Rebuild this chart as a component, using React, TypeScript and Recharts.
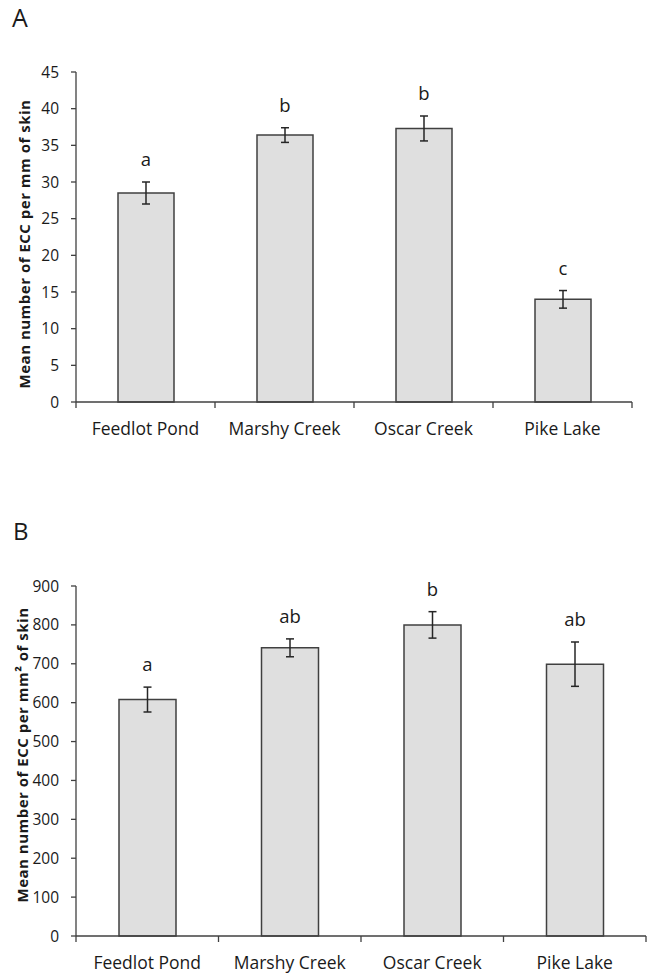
import React from 'react';
import { BarChart, Bar, XAxis, YAxis, ErrorBar, LabelList } from 'recharts';

const categories = ['Feedlot Pond', 'Marshy Creek', 'Oscar Creek', 'Pike Lake'];

const eccPerMm = [28.5, 36.4, 37.3, 14.0];
const eccPerMmErr = [1.5, 1.0, 1.7, 1.2];
const sigA = ['a', 'b', 'b', 'c'];
const ticksA = [0, 5, 10, 15, 20, 25, 30, 35, 40, 45];

const eccPerMm2 = [608, 741, 800, 699];
const eccPerMm2Err = [32, 23, 34, 57];
const sigB = ['a', 'ab', 'b', 'ab'];
const ticksB = [0, 100, 200, 300, 400, 500, 600, 700, 800, 900];

const dataA = categories.map((c, i) => ({ name: c, value: eccPerMm[i], err: eccPerMmErr[i], sig: sigA[i] }));
const dataB = categories.map((c, i) => ({ name: c, value: eccPerMm2[i], err: eccPerMm2Err[i], sig: sigB[i] }));

const FONT = '"Open Sans", sans-serif';
const AXIS = '#404040';
const TEXT = '#1a1a1a';

const makeXTick = (band: number, n: number, axisY: number) => (props: any) => {
  const { x, payload, index } = props;
  const left = x - band / 2;
  const right = x + band / 2;
  return (
    <g>
      <line x1={left} x2={left} y1={axisY} y2={axisY + 6} stroke={AXIS} strokeWidth={1.3} />
      {index === n - 1 && <line x1={right} x2={right} y1={axisY} y2={axisY + 6} stroke={AXIS} strokeWidth={1.3} />}
      <text x={x} y={axisY + 33} textAnchor="middle" fontFamily={FONT} fontSize={17.5} fill={TEXT}>
        {payload.value}
      </text>
    </g>
  );
};

const makeSigLabel = (vals: number[], errs: number[]) => (props: any) => {
  const { x, y, width, height, index, value } = props;
  const v = vals[index];
  const e = errs[index];
  const errPx = v ? (height * e) / v : 0;
  return (
    <text x={x + width / 2} y={y - errPx - 16} textAnchor="middle" fontFamily={FONT} fontSize={18.5} fill={TEXT}>
      {value}
    </text>
  );
};

const YTitle = ({ cx, cy, children }: any) => (
  <text
    x={cx}
    y={cy}
    transform={`rotate(-90, ${cx}, ${cy})`}
    textAnchor="middle"
    dominantBaseline="central"
    fontFamily={FONT}
    fontWeight="bold"
    fontSize={15}
    letterSpacing={0.5}
    fill={TEXT}
  >
    {children}
  </text>
);

export default function App() {
  const wA = 652, hA = 440, topA = 72, rightA = 20, plotHA = 330;
  const bandA = (wA - 76 - rightA) / categories.length;
  const wB = 652, hB = 488, topB = 96, rightB = 6, plotHB = 350;
  const bandB = (wB - 76 - rightB) / categories.length;

  return (
    <div style={{ position: 'absolute', left: 0, top: 0, width: 652, height: 978, background: '#fff' }}>
      <svg width={652} height={978} style={{ position: 'absolute', left: 0, top: 0 }}>
        <text x={12} y={27} fontFamily={FONT} fontSize={25} fill={TEXT}>A</text>
        <text x={13} y={540} fontFamily={FONT} fontSize={24} fill={TEXT}>B</text>
      </svg>

      <div style={{ position: 'absolute', left: 0, top: 0 }}>
        <BarChart width={wA} height={hA} data={dataA} margin={{ top: topA, right: rightA, bottom: 0, left: 0 }}>
          <XAxis
            dataKey="name"
            height={hA - topA - plotHA}
            interval={0}
            tickLine={false}
            axisLine={{ stroke: AXIS, strokeWidth: 1.3 }}
            tick={makeXTick(bandA, categories.length, topA + plotHA)}
          />
          <YAxis
            width={76}
            domain={[0, 45]}
            ticks={ticksA}
            interval={0}
            tickSize={5}
            tickMargin={12}
            axisLine={{ stroke: AXIS, strokeWidth: 1.3 }}
            tickLine={{ stroke: AXIS, strokeWidth: 1.3 }}
            tick={{ fontFamily: FONT, fontSize: 15.5, fill: TEXT }}
            label={<YTitle cx={24} cy={244}>Mean number of ECC per mm of skin</YTitle>}
          />
          <Bar dataKey="value" fill="#dfdfdf" stroke={AXIS} strokeWidth={1.5} barSize={56} isAnimationActive={false}>
            <ErrorBar dataKey="err" direction="y" width={4} stroke="#262626" strokeWidth={1.5} />
            <LabelList dataKey="sig" content={makeSigLabel(eccPerMm, eccPerMmErr)} />
          </Bar>
        </BarChart>
      </div>

      <div style={{ position: 'absolute', left: 0, top: 490 }}>
        <BarChart width={wB} height={hB} data={dataB} margin={{ top: topB, right: rightB, bottom: 0, left: 0 }}>
          <XAxis
            dataKey="name"
            height={hB - topB - plotHB}
            interval={0}
            tickLine={false}
            axisLine={{ stroke: AXIS, strokeWidth: 1.3 }}
            tick={makeXTick(bandB, categories.length, topB + plotHB)}
          />
          <YAxis
            width={76}
            domain={[0, 900]}
            ticks={ticksB}
            interval={0}
            tickSize={5}
            tickMargin={12}
            axisLine={{ stroke: AXIS, strokeWidth: 1.3 }}
            tickLine={{ stroke: AXIS, strokeWidth: 1.3 }}
            tick={{ fontFamily: FONT, fontSize: 15.5, fill: TEXT }}
            label={
              <YTitle cx={22} cy={265}>
                Mean number of ECC per mm² of skin
              </YTitle>
            }
          />
          <Bar dataKey="value" fill="#dfdfdf" stroke={AXIS} strokeWidth={1.5} barSize={57} isAnimationActive={false}>
            <ErrorBar dataKey="err" direction="y" width={4} stroke="#262626" strokeWidth={1.5} />
            <LabelList dataKey="sig" content={makeSigLabel(eccPerMm2, eccPerMm2Err)} />
          </Bar>
        </BarChart>
      </div>
    </div>
  );
}
